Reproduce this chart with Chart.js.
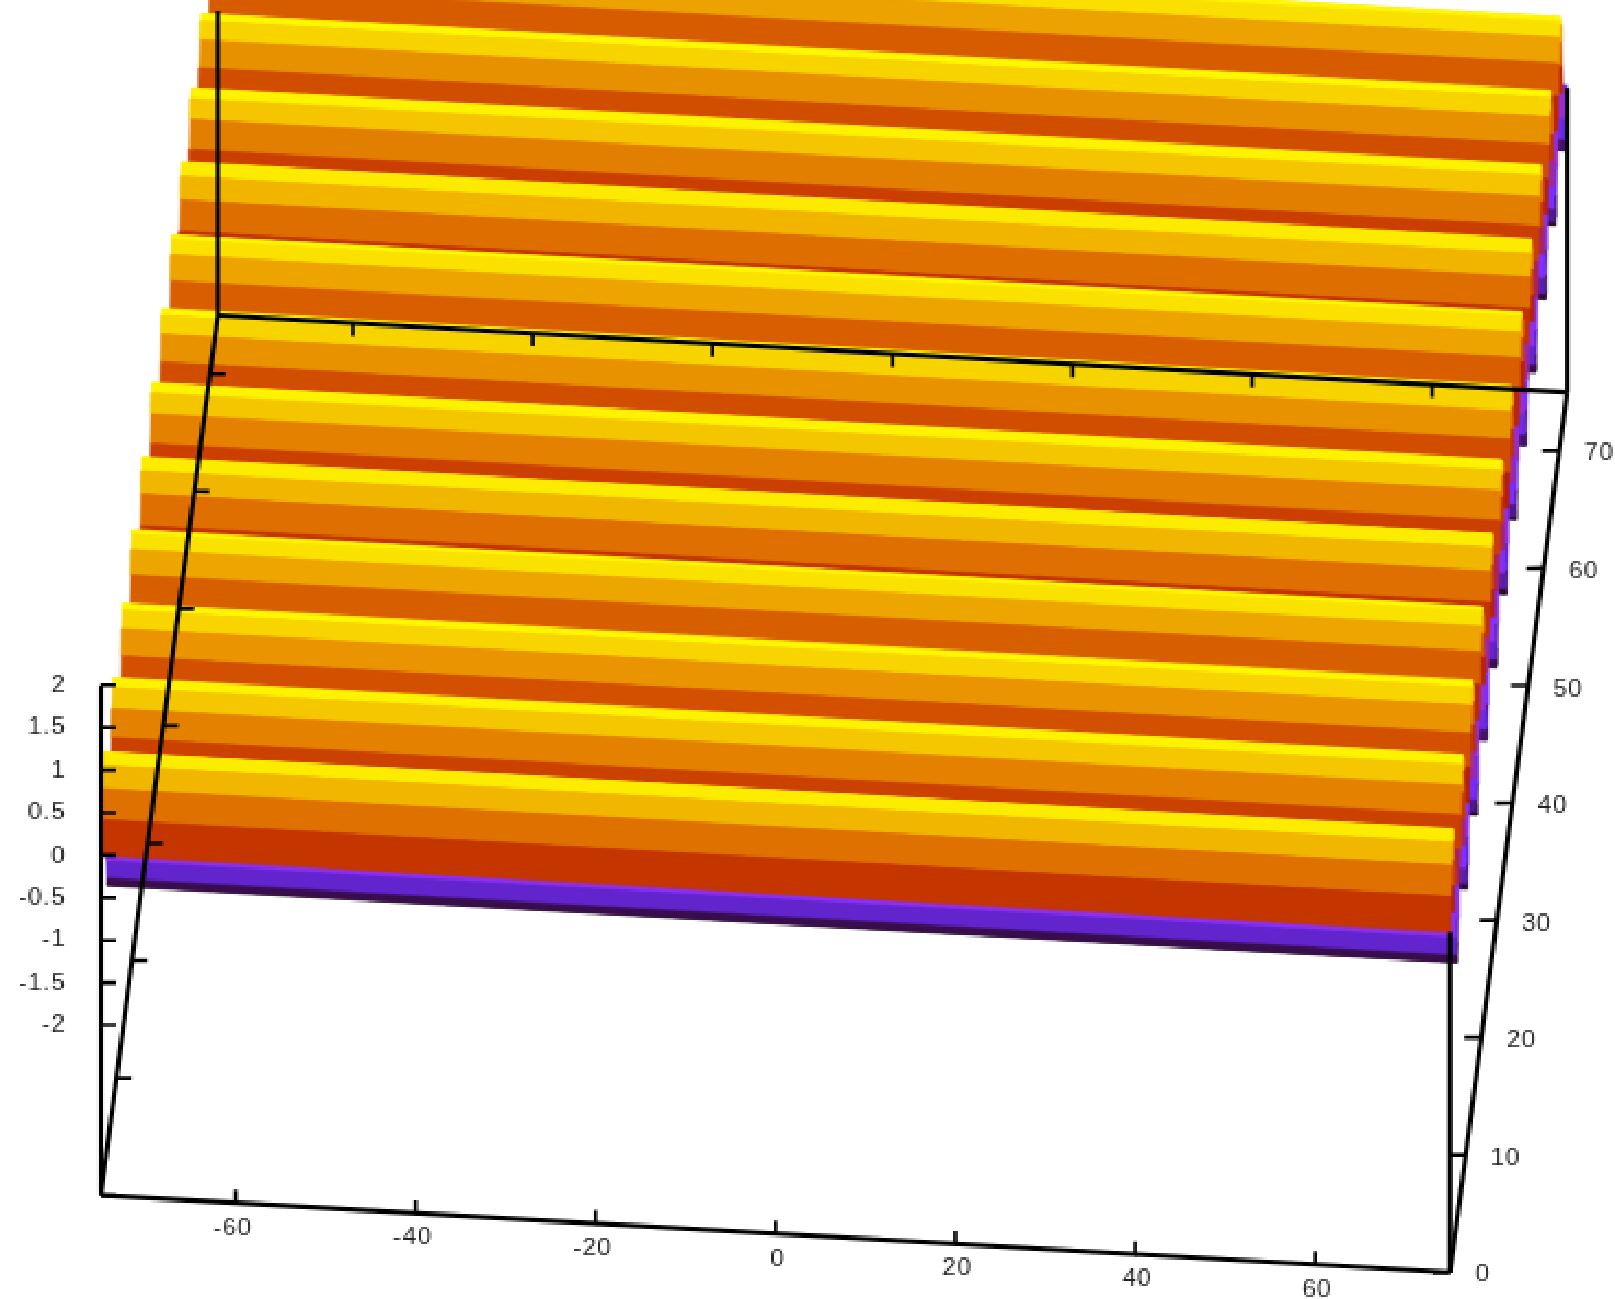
<!DOCTYPE html>
<html>
<head>
<meta charset="utf-8">
<title>Surface</title>
<script src="https://cdn.jsdelivr.net/npm/chart.js@4"></script>
<style>
  html, body { margin: 0; padding: 0; background: #fff; }
  canvas { display: block; image-rendering: pixelated; }
</style>
</head>
<body>
<canvas id="surfaceChart" width="1615" height="1299"></canvas>
<script>
// Sample rows of the surface along the y axis
const rowY = [
  0, 0.375, 0.75, 1.125, 1.5, 1.875, 2.25, 2.625, 3, 3.375, 3.75, 4.125, 4.5, 4.875, 5.25, 5.625,
  6, 6.375, 6.75, 7.125, 7.5, 7.875, 8.25, 8.625, 9, 9.375, 9.75, 10.125, 10.5, 10.875, 11.25, 11.625,
  12, 12.375, 12.75, 13.125, 13.5, 13.875, 14.25, 14.625, 15, 15.375, 15.75, 16.125, 16.5, 16.875, 17.25, 17.625,
  18, 18.375, 18.75, 19.125, 19.5, 19.875, 20.25, 20.625, 21, 21.375, 21.75, 22.125, 22.5, 22.875, 23.25, 23.625,
  24, 24.375, 24.75, 25.125, 25.5, 25.875, 26.25, 26.625, 27, 27.375, 27.75, 28.125, 28.5, 28.875, 29.25, 29.625,
  30, 30.375, 30.75, 31.125, 31.5, 31.875, 32.25, 32.625, 33, 33.375, 33.75, 34.125, 34.5, 34.875, 35.25, 35.625,
  36, 36.375, 36.75, 37.125, 37.5, 37.875, 38.25, 38.625, 39, 39.375, 39.75, 40.125, 40.5, 40.875, 41.25, 41.625,
  42, 42.375, 42.75, 43.125, 43.5, 43.875, 44.25, 44.625, 45, 45.375, 45.75, 46.125, 46.5, 46.875, 47.25, 47.625,
  48, 48.375, 48.75, 49.125, 49.5, 49.875, 50.25, 50.625, 51, 51.375, 51.75, 52.125, 52.5, 52.875, 53.25, 53.625,
  54, 54.375, 54.75, 55.125, 55.5, 55.875, 56.25, 56.625, 57, 57.375, 57.75, 58.125, 58.5, 58.875, 59.25, 59.625,
  60, 60.375, 60.75, 61.125, 61.5, 61.875, 62.25, 62.625, 63, 63.375, 63.75, 64.125, 64.5, 64.875, 65.25, 65.625,
  66, 66.375, 66.75, 67.125, 67.5, 67.875, 68.25, 68.625, 69, 69.375, 69.75, 70.125, 70.5, 70.875, 71.25, 71.625,
  72, 72.375, 72.75, 73.125, 73.5, 73.875, 74.25, 74.625, 75
];

// Height of the surface at each row
const rowZ = [
  0, 0.366, 0.682, 0.902, 0.998, 0.954, 0.778, 0.494, 0.141, -0.231, -0.572, -0.832, -0.978, -0.987, -0.859, -0.612,
  -0.279, 0.092, 0.45, 0.746, 0.938, 1, 0.923, 0.717, 0.412, 0.05, -0.32, -0.644, -0.88, -0.993, -0.968, -0.808,
  -0.537, -0.19, 0.183, 0.53, 0.804, 0.966, 0.994, 0.883, 0.65, 0.327, -0.042, -0.405, -0.712, -0.92, -1, -0.941,
  -0.751, -0.457, -0.099, 0.272, 0.606, 0.855, 0.986, 0.979, 0.837, 0.578, 0.239, -0.133, -0.487, -0.773, -0.952, -0.998,
  -0.906, -0.687, -0.373, -0.008, 0.359, 0.676, 0.899, 0.997, 0.956, 0.783, 0.501, 0.149, -0.224, -0.565, -0.828, -0.976,
  -0.988, -0.863, -0.618, -0.287, 0.084, 0.443, 0.741, 0.935, 1, 0.926, 0.723, 0.419, 0.058, -0.312, -0.638, -0.876,
  -0.992, -0.97, -0.813, -0.543, -0.198, 0.175, 0.523, 0.799, 0.964, 0.995, 0.887, 0.656, 0.334, -0.034, -0.398, -0.706,
  -0.917, -0.999, -0.943, -0.756, -0.464, -0.107, 0.265, 0.599, 0.851, 0.984, 0.981, 0.841, 0.584, 0.246, -0.126, -0.48,
  -0.768, -0.949, -0.999, -0.909, -0.693, -0.381, -0.016, 0.352, 0.67, 0.895, 0.996, 0.959, 0.788, 0.507, 0.157, -0.216,
  -0.559, -0.824, -0.974, -0.989, -0.866, -0.624, -0.294, 0.076, 0.436, 0.736, 0.933, 1, 0.929, 0.728, 0.426, 0.065,
  -0.305, -0.633, -0.872, -0.991, -0.972, -0.818, -0.55, -0.205, 0.167, 0.517, 0.794, 0.962, 0.995, 0.891, 0.662, 0.342,
  -0.027, -0.391, -0.701, -0.913, -0.999, -0.946, -0.761, -0.471, -0.115, 0.257, 0.593, 0.847, 0.983, 0.982, 0.845, 0.59,
  0.254, -0.118, -0.474, -0.763, -0.947, -0.999, -0.912, -0.698, -0.388
];

const xEdges = [-75, 75];

const xTicks = [-60, -40, -20, 0, 20, 40, 60];
const yTicks = [0, 10, 20, 30, 40, 50, 60, 70];
const zTicks = [2, 1.5, 1, 0.5, 0, -0.5, -1, -1.5, -2];

const xTickLabels = ['-60', '-40', '-20', '0', '20', '40', '60'];
const yTickLabels = ['0', '10', '20', '30', '40', '50', '60', '70'];
const zTickLabels = ['2', '1.5', '1', '0.5', '0', '-0.5', '-1', '-1.5', '-2'];

// Axis box
const yRange = [0, 75];
const zBase = -4;
const zFrontLeftTop = 2;
const zFrontRightTop = 0;
const zBackTop = -0.42;

// Orthographic view: data (x, y, z) to the flat plane of the chart
function project(x, y, z) {
  return {
    x: 775 + 8.99 * x + 1.56 * y,
    y: 893.5 + 0.513 * x - 11.73 * y - 85 * z
  };
}

// rgbformulae 7,5,15 over z -1..1, the purple end lifted a little in green
function paletteColor(z) {
  const g = Math.min(1, Math.max(0, (z + 1) / 2));
  const r = Math.round(255 * Math.sqrt(g));
  const b = Math.round(255 * Math.max(0, Math.sin(2 * Math.PI * g)));
  const gr = Math.round(255 * g * g * g + 0.17 * b);
  return `rgb(${r},${gr},${b})`;
}

function lineDataset(from, to, width) {
  return {
    data: [project(...from), project(...to)],
    showLine: true,
    fill: false,
    borderColor: '#000',
    borderWidth: width,
    pointRadius: 0
  };
}

function axisDatasets() {
  const sets = [];
  const [x0, x1] = xEdges;
  const [y0, y1] = yRange;
  const edge = 4.6;
  const tick = 3.6;

  // Box edges
  sets.push(lineDataset([x0, y0, zBase], [x1, y0, zBase], edge));
  sets.push(lineDataset([x0, y1, zBase], [x1, y1, zBase], edge));
  sets.push(lineDataset([x0, y0, zBase], [x0, y1, zBase], edge));
  sets.push(lineDataset([x1, y0, zBase], [x1, y1, zBase], edge));
  sets.push(lineDataset([x0, y0, zBase], [x0, y0, zFrontLeftTop], edge));
  sets.push(lineDataset([x1, y0, zBase], [x1, y0, zFrontRightTop], edge));
  sets.push(lineDataset([x0, y1, zBase], [x0, y1, zBackTop], edge));
  sets.push(lineDataset([x1, y1, zBase], [x1, y1, zBackTop], edge));

  // Ticks, the tiny offsets keep them square to the page
  xTicks.forEach(x => {
    sets.push(lineDataset([x, y0, zBase], [x - 0.19, y0 + 1.1, zBase], tick));
    sets.push(lineDataset([x, y1, zBase], [x + 0.19, y1 - 1.1, zBase], tick));
  });
  yTicks.forEach(y => {
    sets.push(lineDataset([x0, y, zBase], [x0 + 1.7, y, zBase + 0.01], tick));
    sets.push(lineDataset([x1, y, zBase], [x1 - 1.9, y, zBase - 0.012], tick));
  });
  zTicks.forEach(z => {
    sets.push(lineDataset([x0, y0, z], [x0 + 1.7, y0, z + 0.01], tick));
  });
  return sets;
}

// One filled strip per pair of rows, nearest row first so it is painted last
function surfaceDatasets() {
  const sets = [];
  const [x0, x1] = xEdges;
  for (let i = 0; i < rowY.length - 1; i++) {
    const color = paletteColor((rowZ[i] + rowZ[i + 1]) / 2);
    sets.push({
      data: [
        project(x0, rowY[i], rowZ[i]),
        project(x1, rowY[i], rowZ[i]),
        project(x1, rowY[i + 1], rowZ[i + 1]),
        project(x0, rowY[i + 1], rowZ[i + 1]),
        project(x0, rowY[i], rowZ[i])
      ],
      showLine: true,
      fill: 'shape',
      backgroundColor: color,
      borderColor: color,
      borderWidth: 1,
      pointRadius: 0
    });
  }
  return sets;
}

const tickLabelPlugin = {
  id: 'tickLabels',
  afterDraw(chart) {
    const { ctx, scales } = chart;
    const put = (text, p, dx, dy, align) => {
      ctx.textAlign = align;
      ctx.fillText(text, scales.x.getPixelForValue(p.x) + dx, scales.y.getPixelForValue(p.y) + dy);
    };
    ctx.save();
    ctx.font = '25px "Liberation Sans"';
    ctx.letterSpacing = '1px';
    ctx.fillStyle = '#222';
    ctx.textBaseline = 'middle';
    xTicks.forEach((x, i) => put(xTickLabels[i], project(x, 0, zBase), x < 0 ? -3 : 2, 25, 'center'));
    yTicks.forEach((y, i) => put(yTickLabels[i], project(xEdges[1], y, zBase), 25, 3, 'left'));
    zTicks.forEach((z, i) => put(zTickLabels[i], project(xEdges[0], 0, z), -35, 0, 'right'));
    ctx.restore();
  }
};

const canvas = document.getElementById('surfaceChart');
new Chart(canvas, {
  type: 'scatter',
  data: { datasets: [...axisDatasets(), ...surfaceDatasets()] },
  options: {
    responsive: false,
    animation: false,
    devicePixelRatio: 0.4566,  // the source was a small bitmap blown up
    layout: { padding: 0 },
    plugins: {
      legend: { display: false },
      tooltip: { enabled: false }
    },
    scales: {
      x: { type: 'linear', min: 0, max: 1615, display: false },
      y: { type: 'linear', min: 0, max: 1299, reverse: true, display: false }
    }
  },
  plugins: [tickLabelPlugin]
});
canvas.style.width = '1615px';
canvas.style.height = '1299px';
</script>
</body>
</html>
